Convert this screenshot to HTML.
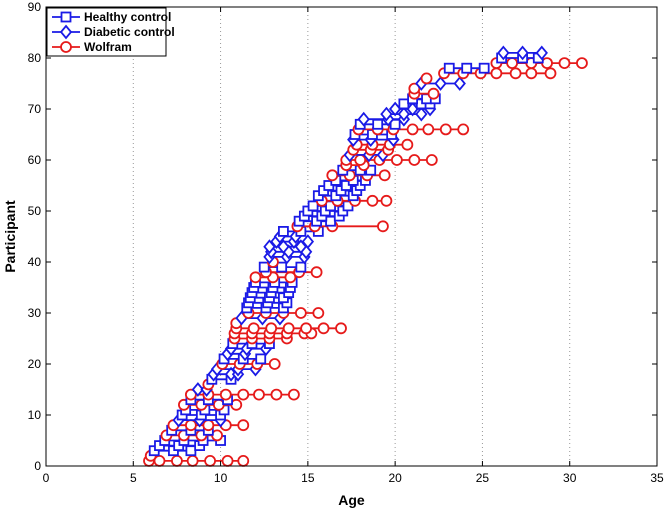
<!DOCTYPE html>
<html><head><meta charset="utf-8"><style>
body{margin:0;background:#fff;font-family:"Liberation Sans",sans-serif}
svg{display:block}
text{font-family:"Liberation Sans",sans-serif}
</style></head><body>
<svg id="chart" width="664" height="511" viewBox="0 0 664 511" xmlns="http://www.w3.org/2000/svg"></svg>
<script>
const xTicks=[0,5,10,15,20,25,30,35];
const yTicks=[0,10,20,30,40,50,60,70,80,90];
const groupNames=["Healthy control","Diabetic control","Wolfram"];
// participant ids, group (0 healthy,1 diabetic,2 wolfram), visit ages
const rowP=[1,2,3,4,5,6,7,8,9,10,11,12,13,14,15,16,17,18,19,20,21,22,23,24,25,26,27,28,29,30,31,32,33,34,35,36,37,38,39,40,41,42,43,44,45,46,47,48,49,50,51,52,53,54,55,56,57,58,59,60,61,62,63,64,65,66,67,68,69,70,71,72,73,74,75,76,77,78,79,80,81];
const rowGroup=[2,2,0,0,0,2,0,2,1,0,0,2,0,2,1,2,0,1,1,2,0,1,1,0,2,2,2,2,1,2,0,0,0,0,0,0,2,2,0,2,1,1,1,1,1,0,2,0,0,0,0,2,0,0,0,0,2,0,2,2,1,2,2,1,0,2,0,1,1,1,0,0,2,2,1,2,2,0,2,0,1];
const rowAges=[
[5.9,6.5,7.5,8.4,9.4,10.4,11.3],[6.0],[6.2,7.3,8.3],[6.5,7.6,8.8],[6.8,7.9,9.0,10.0],[6.9,7.9,8.9,9.8],[7.2,8.3,9.3],[7.3,8.3,9.3,10.3,11.3],[7.6,8.8,10.0],[7.8,8.9,10.0],
[8.0,9.1,10.2],[7.9,8.9,9.9,10.9],[8.3,9.3,10.4],[8.3,9.3,10.3,11.3,12.2,13.2,14.2],[8.7,9.2],[9.3],[9.5,10.6],[9.6,10.6,11.0],[9.8,11.0,12.0],[10.1,11.1,12.1,13.1],
[10.2,11.3,12.3],[10.4,11.4],[10.6,11.5,12.6],[10.7,11.8,12.8],[10.8,11.8,12.8,13.8],[10.8,11.8,12.8,13.8,14.8,15.2],[10.9,11.9,12.9,13.9,14.9,15.9,16.9],[10.9],[11.2,12.4,13.4],[11.6,12.6,13.6,14.6,15.6],
[11.5,12.6,13.6],[11.6,12.7,13.8],[11.7,12.8,13.6],[11.8,12.9,13.9],[11.9,13.0,14.0],[12.0,13.1,14.1],[12.0,13.0,14.0],[12.6,14.5,15.5],[12.5,13.5,14.6],[13.0],
[12.8,13.8,14.8],[12.9,13.9,14.9],[12.8,13.6,14.6],[13.2,14.2,15.0],[13.4,14.3],[13.6,14.6,15.6],[14.4,15.4,16.4,19.3],[14.5,15.5,16.3],[14.8,15.8,16.8],[15.0,16.0,17.0],
[15.3,16.3,17.3],[15.8,16.7,17.7,18.7,19.5],[15.6,16.6,17.6],[15.9,16.9,17.8],[16.2,17.2,18.0],[16.6,17.6,18.3],[16.4,17.4,18.4,19.4],[17.0,18.0,18.6],[17.2,18.2],[17.2,18.0,19.1,20.1,21.1,22.1],
[17.4,18.5,19.3],[17.6,18.6,19.6],[17.8,18.7,19.7,20.7],[17.6,18.6,19.9],[17.7,18.7,19.8],[17.9,19.0,19.9,21.0,21.9,22.9,23.9],[18.0,19.0,20.0],[18.2,19.6,20.5],[19.5,20.5,21.5],[20.0,21.0,22.0],
[20.5,21.5,22.0],[21.0,21.8,22.3],[21.1,22.2],[21.1],[21.5,22.6,23.7],[21.8],[22.8,23.9,24.9,25.8,26.9,27.8,28.9],[23.1,24.1,25.1],[25.8,26.7,27.8,28.7,29.7,30.7],[26.1,27.3,28.2],
[26.2,27.3,28.4]];
const L=46,R=657,T=7,B=466;
const xs=a=>L+(a-0)/35*(R-L);
const ys=p=>B-p/90*(B-T);
const NS="http://www.w3.org/2000/svg";
const svg=document.getElementById('chart');
function mk(tag,attrs,parent){const e=document.createElementNS(NS,tag);for(const k in attrs)e.setAttribute(k,attrs[k]);(parent||svg).appendChild(e);return e;}
const colors=["#1a1ae6","#1a1ae6","#e61a1a"];
// gridlines
xTicks.forEach(t=>{if(t>0&&t<35){const g=mk('line',{x1:xs(t),x2:xs(t),y1:T,y2:B,stroke:'#999','stroke-dasharray':'1,3','stroke-width':1});

}});
function marker(g,x,y,parent){
 const c=colors[g];let m;
 if(g===0)m=mk('rect',{x:x-4.5,y:y-4.5,width:9,height:9,fill:'#fff',stroke:c,'stroke-width':1.8},parent);
 else if(g===1)m=mk('polygon',{points:`${x},${y-6} ${x+5},${y} ${x},${y+6} ${x-5},${y}`,fill:'#fff',stroke:c,'stroke-width':1.8},parent);
 else m=mk('circle',{cx:x,cy:y,r:5,fill:'#fff',stroke:c,'stroke-width':1.8},parent);
 return m;
}
rowP.forEach((p,i)=>{
 const g=rowGroup[i],ages=rowAges[i],y=ys(p);
 const grp=mk('g',{});
 
 
 if(ages.length>1){mk('line',{x1:xs(ages[0]),x2:xs(ages[ages.length-1]),y1:y,y2:y,stroke:colors[g],'stroke-width':1.8},grp);}
 ages.forEach(a=>{const m=marker(g,xs(a),y,grp);
 
 });
});
// frame
const fr=mk('rect',{x:L,y:T,width:R-L,height:B-T,fill:'none',stroke:'#000','stroke-width':1});


xTicks.forEach(t=>{mk('line',{x1:xs(t),x2:xs(t),y1:B,y2:B-5,stroke:'#000'});mk('line',{x1:xs(t),x2:xs(t),y1:T,y2:T+5,stroke:'#000'});
 const tx=mk('text',{x:xs(t),y:B+16,'text-anchor':'middle','font-size':12});tx.textContent=t;
 
 });
yTicks.forEach(t=>{mk('line',{x1:L,x2:L+5,y1:ys(t),y2:ys(t),stroke:'#000'});mk('line',{x1:R,x2:R-5,y1:ys(t),y2:ys(t),stroke:'#000'});
 const tx=mk('text',{x:L-5,y:ys(t)+4,'text-anchor':'end','font-size':12});tx.textContent=t;
 
 });
const xl=mk('text',{x:(L+R)/2,y:505,'text-anchor':'middle','font-size':14,'font-weight':'bold'});xl.textContent='Age';


const yl=mk('text',{x:0,y:0,'text-anchor':'middle','font-size':14,'font-weight':'bold',transform:`translate(15,${(T+B)/2}) rotate(-90)`});yl.textContent='Participant';


// legend
const lg=mk('g',{});


mk('rect',{x:47,y:8,width:119,height:48,fill:'#fff',stroke:'#000','stroke-width':1},lg);
groupNames.forEach((n,i)=>{const y=17+i*15;
 const e=mk('g',{},lg);
 
 
 mk('line',{x1:52,x2:80,y1:y,y2:y,stroke:colors[i],'stroke-width':1.8},e);
 marker(i,66,y,e);
 const t=mk('text',{x:84,y:y+4,'font-size':12,'font-weight':'bold'},e);t.textContent=n;});
</script>
</body></html>
